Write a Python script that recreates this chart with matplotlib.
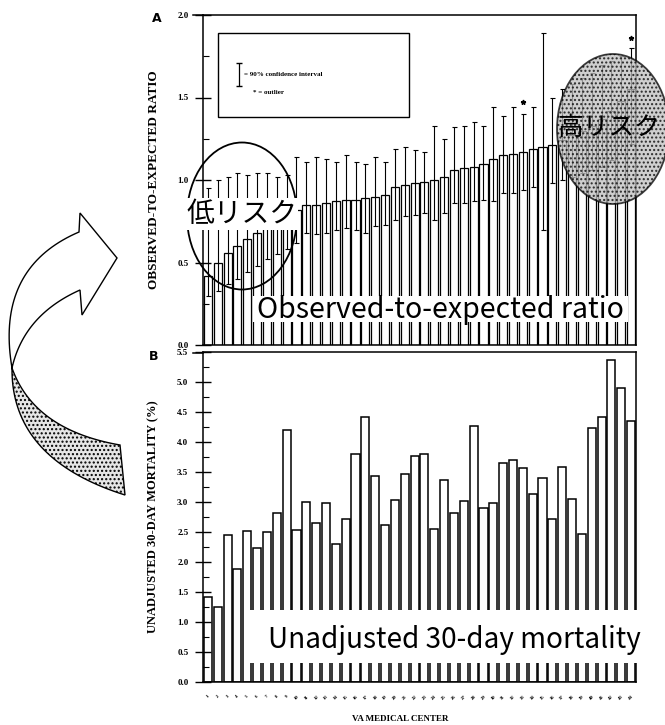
import numpy as np
import matplotlib
matplotlib.use("Agg")
import matplotlib.pyplot as plt
from matplotlib.patches import Rectangle, Ellipse, Polygon
from matplotlib.ticker import MultipleLocator

# ---------------- data ----------------
centers = [str(i) for i in range(1, 45)]

oe_ratio = [0.42, 0.50, 0.56, 0.60, 0.64, 0.68, 0.72, 0.75, 0.78, 0.82,
            0.85, 0.85, 0.86, 0.87, 0.88, 0.88, 0.89, 0.90, 0.91, 0.96,
            0.97, 0.98, 0.99, 1.00, 1.02, 1.06, 1.07, 1.08, 1.10, 1.13,
            1.15, 1.16, 1.17, 1.19, 1.20, 1.21, 1.24, 1.27, 1.30, 1.33,
            1.37, 1.42, 1.48, 1.55]
oe_lower = [0.30, 0.33, 0.37, 0.40, 0.44, 0.48, 0.52, 0.55, 0.58, 0.62,
            0.68, 0.67, 0.68, 0.70, 0.71, 0.70, 0.68, 0.72, 0.73, 0.76,
            0.78, 0.79, 0.80, 0.76, 0.80, 0.86, 0.86, 0.87, 0.88, 0.87,
            0.92, 0.92, 0.94, 0.96, 0.70, 0.98, 1.00, 1.02, 1.04, 1.06,
            1.08, 1.12, 1.16, 1.22]
oe_upper = [0.95, 1.00, 1.02, 1.04, 1.03, 1.04, 1.04, 1.02, 1.03, 1.14,
            1.11, 1.14, 1.13, 1.11, 1.15, 1.11, 1.10, 1.14, 1.11, 1.19,
            1.20, 1.18, 1.17, 1.33, 1.25, 1.32, 1.33, 1.35, 1.33, 1.44,
            1.39, 1.44, 1.40, 1.44, 1.89, 1.50, 1.55, 1.58, 1.62, 1.65,
            1.70, 1.72, 1.75, 1.80]
outlier_idx = [32, 43]
outlier_val = [1.47, 1.86]

mortality = [1.42, 1.25, 2.45, 1.88, 2.52, 2.23, 2.50, 2.82, 4.20, 2.53,
             3.00, 2.65, 2.98, 2.30, 2.72, 3.80, 4.42, 3.43, 2.62, 3.03,
             3.47, 3.77, 3.80, 2.55, 3.37, 2.82, 3.02, 4.27, 2.90, 2.98,
             3.65, 3.70, 3.57, 3.13, 3.40, 2.72, 3.58, 3.05, 2.47, 4.23,
             4.42, 5.37, 4.90, 4.35]

# ---------------- figure ----------------
W, H = 665, 725
fig = plt.figure(figsize=(W / 100, H / 100), dpi=100)
fig.patch.set_facecolor("white")

SERIF = ["Liberation Serif", "DejaVu Serif"]
JP = ["Noto Sans CJK JP", "DejaVu Sans"]

def px_axes(x0, y0, x1, y1):
    return fig.add_axes([x0 / W, 1 - y1 / H, (x1 - x0) / W, (y1 - y0) / H])

axA = px_axes(203, 15, 636, 345)
axB = px_axes(203, 352, 636, 682)

x = np.arange(len(centers))

def style_axis(ax, ymax, major, minor):
    ax.set_xlim(-0.5, len(centers) - 0.5)
    ax.set_ylim(0, ymax)
    ax.yaxis.set_major_locator(MultipleLocator(major))
    ax.yaxis.set_minor_locator(MultipleLocator(minor))
    ax.yaxis.set_major_formatter(matplotlib.ticker.FormatStrFormatter("%.1f"))
    ax.tick_params(axis="y", which="major", direction="inout", length=11,
                   width=1.0, pad=5, labelsize=6.5)
    ax.tick_params(axis="y", which="minor", direction="in", length=4, width=0.8)
    for lab in ax.get_yticklabels():
        lab.set_fontfamily(SERIF)
        lab.set_fontweight("bold")
    for s in ax.spines.values():
        s.set_linewidth(1.1)

# ---- panel A ----
axA.bar(x, oe_ratio, width=0.82, color="white", edgecolor="black", linewidth=0.9)
err = [np.array(oe_ratio) - np.array(oe_lower), np.array(oe_upper) - np.array(oe_ratio)]
axA.errorbar(x, oe_ratio, yerr=err, fmt="none", ecolor="black", elinewidth=0.8,
             capsize=1.8, capthick=0.8)
axA.plot(outlier_idx, outlier_val, ls="none", marker="*", ms=3.5, color="black")
style_axis(axA, 2.0, 0.5, 0.25)
axA.set_xticks([])
axA.set_ylabel("OBSERVED-TO-EXPECTED RATIO", fontfamily=SERIF, fontweight="bold",
               fontsize=9.5)
axA.yaxis.set_label_coords(-0.10, 0.5)

# legend box of panel A
axA.add_patch(Rectangle((0.035, 0.69), 0.44, 0.255, transform=axA.transAxes,
                        facecolor="white", edgecolor="black", lw=1.0))
axA.errorbar([0.082], [0.82], yerr=[[0.035], [0.035]], transform=axA.transAxes,
             fmt="none", ecolor="black", elinewidth=0.9, capsize=2)
axA.text(0.095, 0.82, "= 90% confidence interval", transform=axA.transAxes,
         fontsize=5, fontweight="bold", fontfamily=SERIF, va="center")
axA.text(0.115, 0.765, "* = outlier", transform=axA.transAxes,
         fontsize=5, fontweight="bold", fontfamily=SERIF, va="center")

# ---- panel B ----
axB.bar(x, mortality, width=0.82, color="white", edgecolor="black", linewidth=1.1)
style_axis(axB, 5.5, 0.5, 0.25)
axB.set_xticks(x)
axB.set_xticklabels(centers, rotation=45, fontsize=3.5, fontweight="bold",
                    fontfamily=SERIF)
axB.tick_params(axis="x", length=0, pad=9)
axB.set_ylabel("UNADJUSTED 30-DAY MORTALITY (%)", fontfamily=SERIF,
               fontweight="bold", fontsize=9)
axB.yaxis.set_label_coords(-0.10, 0.5)
axB.set_xlabel("VA MEDICAL CENTER", fontfamily=SERIF, fontweight="bold", fontsize=6.5)
axB.xaxis.set_label_coords(0.455, -0.10)

# panel letters
fig.text(157 / W, 1 - 18 / H, "A", fontsize=9, fontweight="bold", ha="center", va="center")
fig.text(154 / W, 1 - 357 / H, "B", fontsize=9, fontweight="bold", ha="center", va="center")

# ---------------- overlay (pixel coordinates) ----------------
ov = fig.add_axes([0, 0, 1, 1], zorder=10)
ov.set_xlim(0, W)
ov.set_ylim(H, 0)
ov.axis("off")
ov.patch.set_alpha(0)

# top frame extensions
ov.plot([193, 203], [15, 15], color="black", lw=1.1)
ov.plot([193, 203], [353, 353], color="black", lw=1.1)

def bez(p0, c, p2, n=40):
    t = np.linspace(0, 1, n)[:, None]
    p0, c, p2 = map(np.array, (p0, c, p2))
    return (1 - t) ** 2 * p0 + 2 * (1 - t) * t * c + t ** 2 * p2

# curved arrow
outer_up = bez((79, 232), (-5, 268), (12, 368))
inner_up = bez((80, 290), (24, 315), (12, 368))
outer_lo = bez((12, 368), (11, 459), (125, 495))
inner_lo = bez((12, 368), (34, 430), (120, 445))
white_part = np.vstack([outer_up, inner_up[::-1],
                        [(82, 315), (117, 258), (80, 213), (79, 232)]])
ov.add_patch(Polygon(white_part, closed=True, facecolor="white",
                     edgecolor="black", lw=1.0))
stip = np.vstack([outer_lo, inner_lo[::-1]])
ov.add_patch(Polygon(stip, closed=True, facecolor="#e6e6e6", edgecolor="black",
                     lw=1.0, hatch="...."))

# low-risk ellipse
ov.add_patch(Ellipse((242, 216), 110, 147, facecolor="none", edgecolor="black", lw=1.3))
ov.text(242, 214, "低リスク", fontsize=20, fontfamily=JP, ha="center", va="center",
        bbox=dict(facecolor="white", edgecolor="none", pad=0.5))

# high-risk ellipse
ov.add_patch(Ellipse((613, 129), 112, 150, facecolor="#c0c0c0", alpha=0.75,
                     edgecolor="black", lw=1.3, hatch="...."))
ov.text(557, 128, "高リスク", fontsize=18.5, fontfamily=JP, ha="left", va="center")

# white boxes + big annotation texts
ov.add_patch(Rectangle((253, 296), 375, 26, facecolor="white", edgecolor="none"))
ov.add_patch(Rectangle((245, 610), 397, 53, facecolor="white", edgecolor="none"))

fig.canvas.draw()
renderer = fig.canvas.get_renderer()

def fit_text(x0, x1, y_base, s):
    t = ov.text(x0, y_base, s, fontsize=18, fontfamily=JP, ha="left", va="baseline")
    w = t.get_window_extent(renderer).width
    t.set_fontsize(18 * (x1 - x0) / w)
    return t

fit_text(257, 623, 318, "Observed-to-expected ratio")
fit_text(268, 640, 648, "Unadjusted 30-day mortality")

fig.savefig("out.png", dpi=100)
